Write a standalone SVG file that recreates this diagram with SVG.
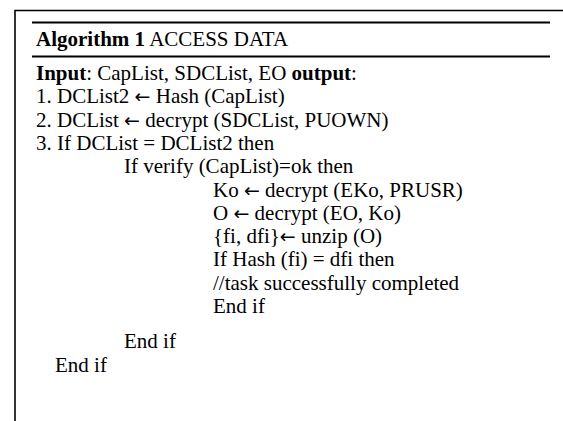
<svg xmlns="http://www.w3.org/2000/svg" width="563" height="421" viewBox="0 0 563 421">
<style>
text{font-family:"Liberation Serif","Times New Roman",serif;font-size:21px;fill:#000}
.b{font-weight:bold}
.a{font-family:"DejaVu Sans",sans-serif;font-size:19px}
.frame{stroke:#000;stroke-width:1.6;fill:none}
.rule{stroke:#000;stroke-width:2;fill:none}
</style>
<rect width="563" height="421" fill="#fff"/>
<g id="frame">
<path class="frame" d="M15,421 V10.5 H563"/>
<line class="rule" x1="32" y1="22.5" x2="550" y2="22.5"/>
<line class="rule" x1="32" y1="56.5" x2="550" y2="56.5"/>
</g>
<g id="title"><text x="36" y="46"><tspan class="b">Algorithm 1</tspan> ACCESS DATA</text></g>
<g id="body">
<text x="36" y="80"><tspan class="b">Input</tspan>: CapList, SDCList, EO <tspan class="b">output</tspan>:</text>
<text x="36" y="103.3">1. DCList2 <tspan class="a">←</tspan> Hash (CapList)</text>
<text x="36" y="126.6">2. DCList <tspan class="a">←</tspan> decrypt (SDCList, PUOWN)</text>
<text x="36" y="149.9">3. If DCList = DCList2 then</text>
<text x="124" y="173.2">If verify (CapList)=ok then</text>
<text x="213" y="196.5">Ko <tspan class="a">←</tspan> decrypt (EKo, PRUSR)</text>
<text x="213" y="219.8">O <tspan class="a">←</tspan> decrypt (EO, Ko)</text>
<text x="213" y="243.1">{fi, dfi}<tspan class="a">←</tspan> unzip (O)</text>
<text x="213" y="266.4">If Hash (fi) = dfi then</text>
<text x="213" y="289.7">//task successfully completed</text>
<text x="213" y="313">End if</text>
<text x="124" y="348">End if</text>
<text x="55" y="371.5">End if</text>
</g>
</svg>
